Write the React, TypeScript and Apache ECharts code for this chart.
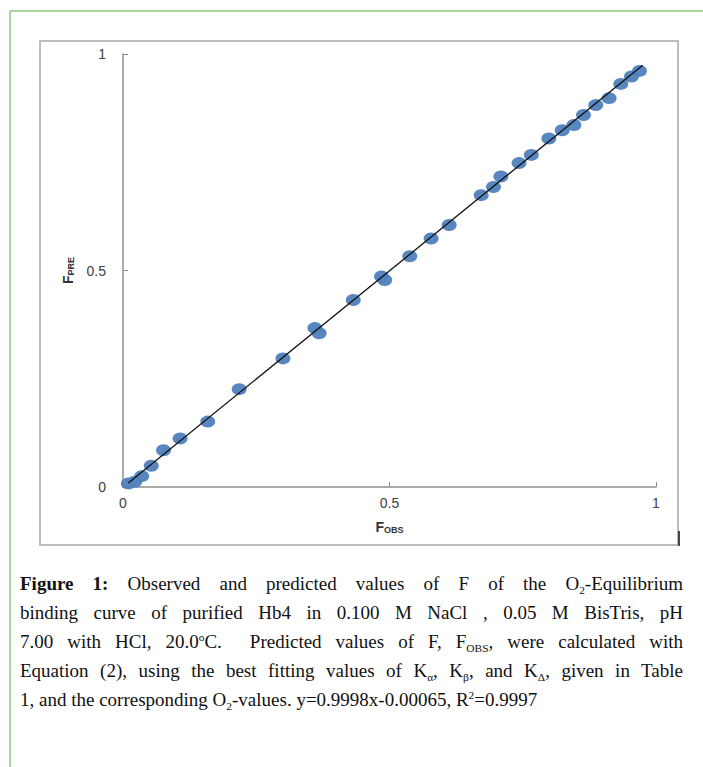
import React, { useEffect, useRef } from "react";
import * as echarts from "echarts";

const fObs = [0.01, 0.022, 0.035, 0.053, 0.076, 0.107, 0.159, 0.218, 0.30, 0.360, 0.368, 0.432, 0.485, 0.491, 0.538, 0.578, 0.612, 0.672, 0.695, 0.709, 0.743, 0.766, 0.799, 0.824, 0.846, 0.864, 0.887, 0.912, 0.934, 0.954, 0.969];
const fPre = [0.008, 0.012, 0.025, 0.049, 0.085, 0.112, 0.151, 0.226, 0.297, 0.367, 0.355, 0.432, 0.486, 0.478, 0.533, 0.574, 0.605, 0.674, 0.693, 0.717, 0.748, 0.767, 0.805, 0.824, 0.836, 0.859, 0.882, 0.898, 0.931, 0.948, 0.961];

// Linear fit from the caption: y = 0.9998x - 0.00065
const fitSlope = 0.9998;
const fitIntercept = -0.00065;
const fitRange = [0.01, 0.975];

const axisTicks = [0, 0.5, 1];

export default function App() {
  const ref = useRef<HTMLDivElement>(null);

  useEffect(() => {
    if (!ref.current) return;
    const chart = echarts.init(ref.current, undefined, { renderer: "svg" });
    const points = fObs.map((x, i) => [x, fPre[i]]);
    const fitLine = fitRange.map((x) => [x, fitSlope * x + fitIntercept]);
    const axisColor = "#8e8e8e";
    const labelStyle = {
      fontFamily: "Liberation Sans, Arial, sans-serif",
      fontSize: 14,
      color: "#404040",
    };
    const nameRich = {
      a: { fontFamily: "Liberation Sans, Arial, sans-serif", fontSize: 14, fontWeight: "bold" as const, color: "#333" },
      b: { fontFamily: "Liberation Sans, Arial, sans-serif", fontSize: 9, fontWeight: "bold" as const, color: "#333", padding: [6, 0, 0, 0] },
    };
    chart.setOption({
      animation: false,
      backgroundColor: "#ffffff",
      grid: { left: 123, right: 47, top: 54, bottom: 280, containLabel: false },
      xAxis: {
        type: "value",
        min: axisTicks[0],
        max: axisTicks[axisTicks.length - 1],
        interval: 0.5,
        name: "{a|F}{b|OBS}",
        nameLocation: "middle",
        nameGap: 32,
        nameTextStyle: { rich: nameRich },
        axisLine: { show: true, lineStyle: { color: axisColor, width: 1.5 } },
        axisTick: { show: true, inside: true, length: 5, lineStyle: { color: axisColor } },
        axisLabel: { ...labelStyle, margin: 9 },
        splitLine: { show: false },
      },
      yAxis: {
        type: "value",
        min: axisTicks[0],
        max: axisTicks[axisTicks.length - 1],
        interval: 0.5,
        name: "{a|F}{b|PRE}",
        nameLocation: "middle",
        nameGap: 46,
        nameRotate: 90,
        nameTextStyle: { rich: nameRich },
        axisLine: { show: true, lineStyle: { color: axisColor, width: 1.5 } },
        axisTick: { show: true, inside: true, length: 5, lineStyle: { color: axisColor } },
        axisLabel: { ...labelStyle, margin: 17 },
        splitLine: { show: false },
      },
      series: [
        {
          type: "scatter",
          data: points,
          symbol: "circle",
          symbolSize: [15, 12],
          itemStyle: { color: "#4F81BD", opacity: 0.95 },
          z: 2,
        },
        {
          type: "line",
          data: fitLine,
          symbol: "none",
          lineStyle: { color: "#111", width: 1.3 },
          z: 3,
        },
      ],
      graphic: [
        {
          type: "rect",
          shape: { x: 40, y: 41, width: 638, height: 504 },
          style: { fill: "none", stroke: "#a8a8a8", lineWidth: 1.5 },
          silent: true,
        },
        {
          type: "line",
          shape: { x1: 679, y1: 531, x2: 679, y2: 546 },
          style: { stroke: "#111", lineWidth: 1.5 },
          silent: true,
        },
        {
          type: "line",
          shape: { x1: 10, y1: 11, x2: 703, y2: 11 },
          style: { stroke: "#8dc97c", lineWidth: 1.5 },
          silent: true,
        },
        {
          type: "line",
          shape: { x1: 10, y1: 11, x2: 10, y2: 767 },
          style: { stroke: "#8dc97c", lineWidth: 1.5 },
          silent: true,
        },
      ],
    });
    return () => chart.dispose();
  }, []);

  const lineStyle: React.CSSProperties = {
    textAlign: "justify",
    textAlignLast: "justify",
    whiteSpace: "nowrap",
    height: 29,
  };
  const sub: React.CSSProperties = { fontSize: "0.6em", verticalAlign: "-0.35em", lineHeight: 0 };
  const sup: React.CSSProperties = { fontSize: "0.6em", verticalAlign: "0.6em", lineHeight: 0 };

  return (
    <div style={{ position: "absolute", left: 0, top: 0, width: 703, height: 767, background: "#fff" }}>
      <div ref={ref} style={{ position: "absolute", left: 0, top: 0, width: 703, height: 767 }} />
      <div
        style={{
          position: "absolute",
          left: 20,
          top: 569,
          width: 663,
          fontFamily: "'Liberation Serif', 'DejaVu Serif', serif",
          fontSize: 19,
          lineHeight: "29px",
          color: "#111",
        }}
      >
        <div style={lineStyle}>
          <b>Figure 1:</b> Observed and predicted values of F of the O<span style={sub}>2</span>-Equilibrium
        </div>
        <div style={lineStyle}>
          binding curve of purified Hb4 in 0.100 M NaCl , 0.05 M BisTris, pH
        </div>
        <div style={lineStyle}>
          7.00 with HCl, 20.0<span style={sup}>o</span>C.&nbsp; Predicted values of F, F<span style={sub}>OBS</span>, were calculated with
        </div>
        <div style={lineStyle}>
          Equation (2), using the best fitting values of K<span style={sub}>α</span>, K<span style={sub}>β</span>, and K<span style={sub}>Δ</span>, given in Table
        </div>
        <div style={{ ...lineStyle, textAlign: "left", textAlignLast: "left" }}>
          1, and the corresponding O<span style={sub}>2</span>-values. y=0.9998x-0.00065, R<span style={sup}>2</span>=0.9997
        </div>
      </div>
    </div>
  );
}
